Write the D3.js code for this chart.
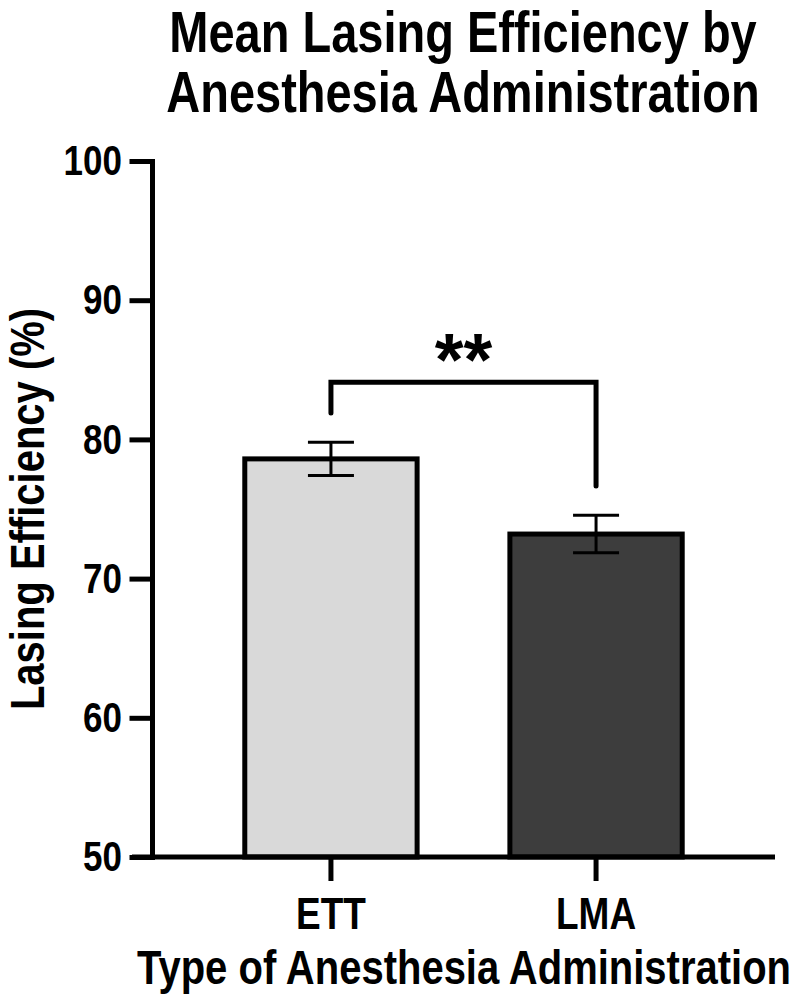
<!DOCTYPE html>
<html>
<head>
<meta charset="utf-8">
<script src="https://cdn.jsdelivr.net/npm/d3@7"></script>
<style>
  body { margin: 0; background: #fff; }
  text { font-family: Helvetica, Arial, "Liberation Sans", sans-serif; font-weight: bold; fill: #000; }
</style>
</head>
<body>
<div id="chartArea"></div>
<script>
// data
const categories = ["ETT", "LMA"];
const means = [78.6, 73.2];
const errors = [1.2, 1.35];
const barColors = ["#d9d9d9", "#3d3d3d"];
const yTicks = [50, 60, 70, 80, 90, 100];
const titleLines = ["Mean Lasing Efficiency by", "Anesthesia Administration"];
const sigLabel = "**";

const width = 800, height = 995;
const k = 1.22; // the reference lettering is taller than it is wide
const svg = d3.select("#chartArea").append("svg")
  .attr("width", width)
  .attr("height", height);

const x = d3.scaleBand()
  .domain(categories)
  .range([152, 775])
  .paddingInner(0.35)
  .paddingOuter(0.35);

const y = d3.scaleLinear()
  .domain([50, 100])
  .range([857, 161]);

const cx = (d) => x(d) + x.bandwidth() / 2;

// title
svg.selectAll("text.title")
  .data(titleLines)
  .enter()
  .append("text")
    .attr("class", "title")
    .attr("text-anchor", "middle")
    .attr("font-size", "47px")
    .attr("transform", (d, i) => `translate(463,${52 + i * 60}) scale(1,${k})`)
    .text(d => d);

// bars
svg.selectAll("rect.bar")
  .data(categories)
  .enter()
  .append("rect")
    .attr("class", "bar")
    .attr("x", d => x(d))
    .attr("y", (d, i) => y(means[i]))
    .attr("width", x.bandwidth())
    .attr("height", (d, i) => y(50) - y(means[i]))
    .attr("fill", (d, i) => barColors[i])
    .attr("stroke", "#000")
    .attr("stroke-width", 5);

// error bars
const capW = 23;
const err = svg.append("g").attr("stroke", "#000").attr("stroke-width", 3);
categories.forEach((c, i) => {
  const lo = y(means[i] - errors[i]), hi = y(means[i] + errors[i]);
  err.append("line").attr("x1", cx(c)).attr("x2", cx(c)).attr("y1", lo).attr("y2", hi);
  err.append("line").attr("x1", cx(c) - capW).attr("x2", cx(c) + capW).attr("y1", lo).attr("y2", lo);
  err.append("line").attr("x1", cx(c) - capW).attr("x2", cx(c) + capW).attr("y1", hi).attr("y2", hi);
});

// y axis
const yAxis = svg.append("g")
  .attr("transform", "translate(152,0)")
  .call(d3.axisLeft(y).tickValues(yTicks).tickSize(20).tickSizeOuter(0).tickPadding(10));
yAxis.selectAll("line, path").attr("stroke", "#000").attr("stroke-width", 5).attr("stroke-linecap", "square");
yAxis.selectAll("text")
  .attr("font-size", "35px").attr("font-family", null).attr("fill", "#000")
  .attr("transform", `scale(1,${k})`);

// x axis
const xAxis = svg.append("g")
  .attr("transform", `translate(0,${y(50)})`)
  .call(d3.axisBottom(x).tickSize(24).tickSizeOuter(0).tickPadding(16));
xAxis.select(".domain").remove();
xAxis.selectAll("line").attr("stroke", "#000").attr("stroke-width", 5);
xAxis.selectAll("text")
  .attr("font-size", "37px").attr("font-family", null).attr("fill", "#000")
  .attr("y", 40 / k)
  .attr("transform", `scale(1,${k})`);
xAxis.append("line")
  .attr("x1", 152 - 20).attr("x2", x.range()[1])
  .attr("y1", 0).attr("y2", 0)
  .attr("stroke", "#000").attr("stroke-width", 5);

// significance bracket
const gap = 2.1;
const leftEnd = means[0] + errors[0] + gap;
const rightEnd = means[1] + errors[1] + gap;
const bracketTop = Math.max(leftEnd, rightEnd) + 2.2;
svg.append("path")
  .attr("d", `M${cx(categories[0])},${y(leftEnd)}V${y(bracketTop)}H${cx(categories[1])}V${y(rightEnd)}`)
  .attr("fill", "none")
  .attr("stroke", "#000")
  .attr("stroke-width", 5)
  .attr("stroke-linecap", "round");

svg.append("text")
  .attr("x", (cx(categories[0]) + cx(categories[1])) / 2)
  .attr("y", y(bracketTop) + 3)
  .attr("text-anchor", "middle")
  .attr("font-size", "74px")
  .text(sigLabel);

// axis titles
svg.append("text")
  .attr("transform", `translate(44,509) rotate(-90) scale(1,${k})`)
  .attr("text-anchor", "middle")
  .attr("font-size", "40px")
  .text("Lasing Efficiency (%)");

svg.append("text")
  .attr("transform", `translate(464,984) scale(1,${k})`)
  .attr("text-anchor", "middle")
  .attr("font-size", "40px")
  .text("Type of Anesthesia Administration");
</script>
</body>
</html>
